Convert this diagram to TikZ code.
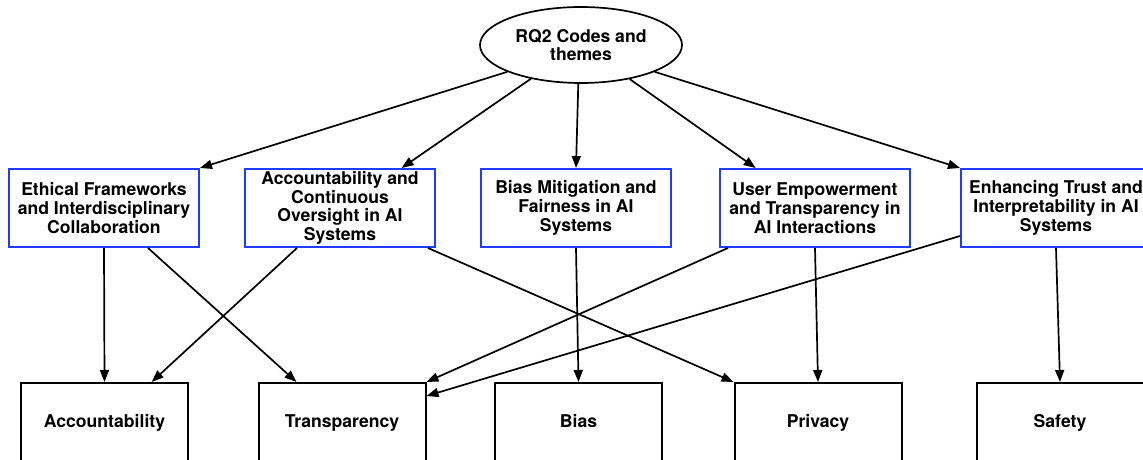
\documentclass[tikz,border=0pt]{standalone}
\usepackage{fontspec}
\setmainfont{TeX Gyre Heros}
\usetikzlibrary{shapes.geometric, arrows.meta, calc}

\tikzset{
  theme/.style={draw=themeblue, line width=2pt, minimum width=190pt, minimum height=78pt, inner sep=0pt, align=center},
  code/.style={draw, line width=2pt, minimum width=167pt, minimum height=80pt, inner sep=0pt, text height=13pt, text depth=4pt},
  link/.style={line width=1.7pt, -{Triangle[length=12pt, width=9pt]}}
}
\definecolor{themeblue}{RGB}{30,60,255}

\begin{document}
\begin{tikzpicture}[x=1pt, y=1pt, font=\fontsize{17.6}{18.7}\selectfont\bfseries]
\useasboundingbox (0,0) rectangle (1143,460);
\clip (0,0) rectangle (1143,460);

% Root
\node[draw, ellipse, line width=1.7pt, minimum width=202pt, minimum height=76pt, inner sep=0pt, align=center] (rq) at (581,415) {RQ2 Codes and\\themes};

% Themes
\node[theme] (eth) at (104,252) {Ethical Frameworks\\and Interdisciplinary\\Collaboration};
\node[theme] (acc) at (340,252) {Accountability and\\Continuous\\Oversight in AI\\Systems};
\node[theme] (bias) at (576,252) {Bias Mitigation and\\Fairness in AI\\Systems};
\node[theme] (user) at (815,252) {User Empowerment\\and Transparency in\\AI Interactions};
\node[theme] (trust) at (1056,252) {Enhancing Trust and\\Interpretability in AI\\Systems};

% Codes
\node[code] (accb) at (104.5,37) {Accountability};
\node[code] (transp) at (342,37) {Transparency};
\node[code] (biasb) at (578.5,37) {Bias};
\node[code] (priv) at (818,37) {Privacy};
\node[code] (safe) at (1060,37) {Safety};

% Root to themes
\draw[link] (rq.200) -- (eth.north east);
\draw[link] (rq.214) -- (acc.33);
\draw[link] (rq.266) -- (bias.north);
\draw[link] (rq.325) -- (user.146);
\draw[link] (rq.340) -- (trust.north west);

% Themes to codes
\draw[link] (eth.south) -- (accb.north);
\draw[link] ($(eth.south)+(44,0)$) -- (transp.138);
\draw[link] ($(acc.south)+(-43,0)$) -- (accb.41);
\draw[link] ($(acc.south)+(88,0)$) -- (priv.north west);
\draw[link] (bias.south) -- (biasb.north);
\draw[link] ($(user.south)+(-87,0)$) -- (transp.north east);
\draw[link] (user.south) -- (priv.north);
\draw[link] ($(trust.west)+(0,-28)$) -- ($(transp.east)+(0,27)$);
\draw[link] (trust.south) -- (safe.north);
\end{tikzpicture}
\end{document}
